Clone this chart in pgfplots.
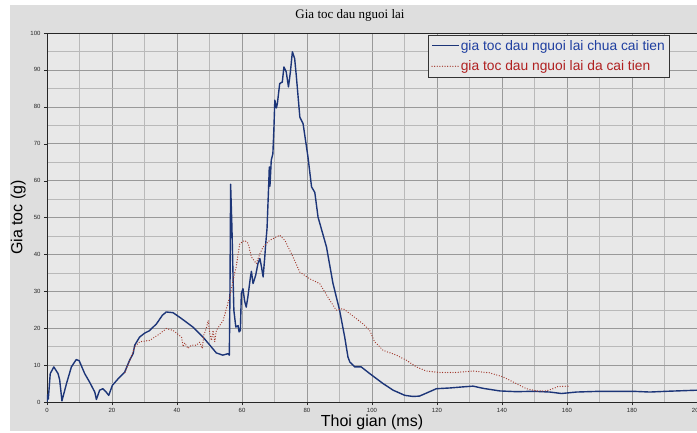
\documentclass[border=0pt]{standalone}
\usepackage{pgfplots}
\pgfplotsset{compat=1.18}
\usetikzlibrary{backgrounds,calc}
\usepackage{fontspec}
\setmainfont{Liberation Sans}
\newfontfamily\titlefont{Liberation Serif}
\definecolor{bluecurve}{HTML}{1C3578}
\definecolor{redcurve}{HTML}{A03428}
\definecolor{bluetext}{HTML}{1F3FA0}
\definecolor{redtext}{HTML}{B02020}
\definecolor{panel}{HTML}{DEDEDE}
\definecolor{plotbg}{HTML}{E8E8E8}

% truoc cai tien
\pgfplotstableread{
x y
0 0
0.2 2
0.4 0.8
1.0 7.7
2.1 9.5
3.4 7.7
3.9 6
4.6 0.3
6.0 5
7.5 9.5
9.0 11.5
9.9 11.2
11.6 7.7
13.1 5.4
14.7 2.7
15.2 0.7
16.2 3.2
17.2 3.6
18.2 2.7
19.0 1.8
20.1 4.5
21.9 6.3
23.9 8.1
25.4 11.3
26.5 13.1
27.0 15.4
28.5 17.6
30.1 18.7
31.5 19.3
33.7 21.2
35.5 23.5
36.7 24.4
38.8 24.2
41.4 22.6
44.9 20.3
48.0 17.6
50.1 15.4
52.1 13.3
54.1 12.7
55.7 13.1
56.1 12.7
56.3 30
56.5 59.0
56.9 47.4
57.2 35.7
57.5 24.8
58.1 20.3
58.8 20.7
59.1 19.0
59.5 19.4
59.8 29.4
60.3 30.7
60.8 27.4
61.3 25.7
61.8 28.4
62.6 33.9
62.9 35.4
63.4 32.1
64.2 34.3
64.9 37.5
65.5 38.9
66.0 36.6
66.5 33.9
67.0 39.2
67.3 42.9
67.7 47.0
68.2 58.5
68.4 63.7
68.6 58.5
69.0 65.5
69.5 67.3
69.8 73.6
70.1 81.8
70.6 79.7
70.9 81
71.6 86.3
72.4 86.7
72.9 90.8
73.6 89.5
74.3 85.4
74.9 89.5
75.5 94.9
76.2 93.1
76.7 88.5
77.8 77.2
78.8 75.4
80.3 66.4
81.4 58.3
82.4 56.8
83.4 50.1
86.0 42
88.0 32.1
90.0 25
91.6 17.6
92.6 12.2
93.2 10.8
94.7 9.5
96.7 9.5
99.3 7.7
103.4 5
106.5 3.2
110.1 1.8
112.6 1.5
114.6 1.6
116.7 2.4
119.8 3.6
123.9 3.8
128 4.1
131.1 4.3
134.2 3.7
139.3 3.0
144.4 2.8
149.6 2.9
154.7 2.7
158.3 2.3
162.9 2.7
170.1 2.9
180.3 2.9
185.5 2.7
190.6 2.9
200 3.2
}\chuacaitien

% sau cai tien
\pgfplotstableread{
x y
24 8
25.5 11.3
27 15
28.5 16.3
31.6 16.7
34.7 18.5
36.7 19.9
38.8 19.4
40.5 18.2
41.4 17.6
41.9 15
42.4 16
43.4 14.5
44.4 15.4
46.0 15.4
47.0 16.2
47.8 14.5
48.2 18
49.0 19.9
49.6 22.1
50.1 18.5
50.6 16.7
51.1 19.4
51.6 16.3
52.1 19.4
54.2 22.1
56.2 28.5
57.8 35.2
58.2 36.6
59.3 42.9
60.8 43.8
61.9 43
62.9 39.3
64.4 37.5
65.5 40.2
66.5 42
68.5 43.8
71.6 45.2
73.2 43.8
75.7 39.3
77.8 35.2
80.8 33.4
83.9 32.1
87 27.6
89 24.9
91.1 25.3
93.1 24
97.2 21.2
99.3 19.4
100.8 16.3
101.9 15.4
103.4 14
107.5 12.7
110.6 11.3
113.7 9.5
116.7 8.4
120.8 8
125.9 8
131.1 8.4
136.2 7.9
140.3 6.8
144.4 5
147.5 3.6
150.6 3.0
153.6 3.0
155.7 3.6
157.2 4.2
160.8 4.3
}\dacaitien

\begin{document}
\begin{tikzpicture}
  \begin{axis}[
      scale only axis,
      width=650pt, height=369pt,
      xmin=0, xmax=200, ymin=0, ymax=100,
      xtick={0,20,...,200},
      ytick={0,10,...,100},
      minor x tick num=1,
      minor y tick num=1,
      grid=both,
      major grid style={gray!80, line width=0.5pt},
      minor grid style={gray!55, line width=0.5pt},
      axis background/.style={fill=plotbg},
      axis line style={gray!30!black, line width=0.7pt},
      tick style={gray!30!black},
      major tick length=3pt,
      minor tick length=0pt,
      tick align=outside,
      xtick pos=bottom, ytick pos=left,
      tick label style={font=\fontsize{6}{7}\selectfont, text=black!85},
      /pgf/number format/assume math mode=true,
      xlabel={Thoi gian (ms)},
      ylabel={Gia toc (g)},
      label style={font=\fontsize{16}{18}\selectfont},
      xlabel style={yshift=5pt},
      ylabel style={yshift=-2pt},
      legend style={
        at={(0.957,0.995)}, anchor=north east,
        fill=plotbg, draw=gray!40!black,
        font=\fontsize{13.8}{15}\selectfont,
        inner sep=3pt, row sep=5pt,
        cells={anchor=west},
        nodes={inner xsep=1pt},
      },
      legend image code/.code={\draw[#1] (0,0) -- (27pt,0);},
    ]
    \addplot[bluecurve, line width=1.4pt, line join=round] table {\chuacaitien};
    \addlegendentry{\textcolor{bluetext}{gia toc dau nguoi lai chua cai tien}}
    \addplot[redcurve, line width=1.3pt, line cap=round, dash pattern=on 0pt off 2.6pt] table {\dacaitien};
    \addlegendentry{\textcolor{redtext}{gia toc dau nguoi lai da cai tien}}
    \coordinate (O) at (rel axis cs:0,0);
  \end{axis}
  \begin{scope}[on background layer]
    \fill[white] ($(O)+(-47pt,-30pt)$) rectangle ++(697pt,432pt);
    \fill[panel] ($(O)+(-37pt,-29pt)$) rectangle ($(O)+(650pt,397pt)$);
  \end{scope}
  \node[font=\titlefont\fontsize{13}{15}\selectfont] at ($(O)+(303pt,387pt)$) {Gia toc dau nguoi lai};
  \pgfresetboundingbox
  \useasboundingbox ($(O)+(-47pt,-30pt)$) rectangle ++(697pt,432pt);
\end{tikzpicture}
\end{document}
